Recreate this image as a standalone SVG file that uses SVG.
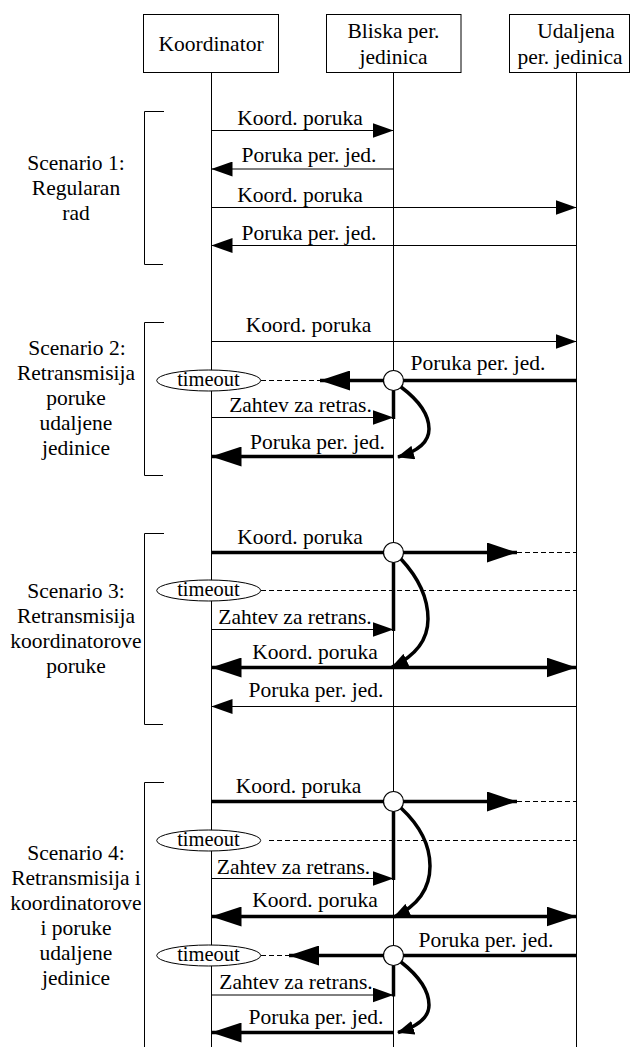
<svg xmlns="http://www.w3.org/2000/svg" width="634" height="1047" viewBox="0 0 634 1047">
  <style>
    .box { fill: #fff; stroke: #000; stroke-width: 1; }
    .life { stroke: #000; stroke-width: 1; fill: none; }
    .thin { stroke: #000; stroke-width: 1; fill: none; }
    .thick { stroke: #000; stroke-width: 3.5; fill: none; }
    .dash { stroke: #000; stroke-width: 1; stroke-dasharray: 5 3; fill: none; }
    .brk { stroke: #000; stroke-width: 1; fill: none; }
    .tmo { fill: #fff; stroke: #000; stroke-width: 1; }
    .junc { fill: #fff; stroke: #000; stroke-width: 1.2; }
  </style>
  <defs>
    <marker id="arr" markerUnits="userSpaceOnUse" markerWidth="21" markerHeight="15" refX="21" refY="7.5" orient="auto-start-reverse">
      <path d="M0,0 L21,7.5 L0,15 z" fill="#000"/>
    </marker>
    <marker id="arrThick" markerUnits="userSpaceOnUse" markerWidth="30" markerHeight="20" refX="30" refY="10" orient="auto-start-reverse">
      <path d="M0,0 L30,10 L0,20 z" fill="#000"/>
    </marker>
    <marker id="arrCurve" markerUnits="userSpaceOnUse" markerWidth="17" markerHeight="14" refX="16" refY="7" orient="auto">
      <path d="M0,0 L17,7 L0,14 z" fill="#000"/>
    </marker>
  </defs>
  <rect width="634" height="1047" fill="#fff"/>

  <!-- participants with lifelines -->
  <g id="koordinator">
    <rect class="box" x="143.5" y="14.5" width="135" height="58"/>
    <text x="211" y="51" text-anchor="middle" font-family="Liberation Serif" font-size="21.5">Koordinator</text>
    <line class="life" x1="211.5" y1="72.5" x2="211.5" y2="1047"/>
  </g>
  <g id="bliska">
    <rect class="box" x="326.5" y="14.5" width="134.5" height="58"/>
    <text x="393.5" y="38" text-anchor="middle" font-family="Liberation Serif" font-size="21.5">Bliska per.</text>
    <text x="393.5" y="63.5" text-anchor="middle" font-family="Liberation Serif" font-size="21.5">jedinica</text>
    <line class="life" x1="393.5" y1="72.5" x2="393.5" y2="1047"/>
  </g>
  <g id="udaljena">
    <rect class="box" x="509.5" y="14.5" width="120" height="58"/>
    <text x="576" y="38" text-anchor="middle" font-family="Liberation Serif" font-size="21.5">Udaljena</text>
    <text x="570" y="63.5" text-anchor="middle" font-family="Liberation Serif" font-size="21.5">per. jedinica</text>
    <line class="life" x1="576.5" y1="72.5" x2="576.5" y2="1047"/>
  </g>

  <!-- scenario brackets and captions -->
  <g id="scenario1">
    <path class="brk" d="M164,111.5 H144.5 V264.5 H163"/>
    <text x="76" y="169.5" text-anchor="middle" font-family="Liberation Serif" font-size="21.5">Scenario 1:</text>
    <text x="76" y="194.5" text-anchor="middle" font-family="Liberation Serif" font-size="21.5">Regularan</text>
    <text x="76" y="219.5" text-anchor="middle" font-family="Liberation Serif" font-size="21.5">rad</text>
  </g>
  <g id="scenario2">
    <path class="brk" d="M164,322.5 H144.5 V475.5 H163"/>
    <text x="77" y="355" text-anchor="middle" font-family="Liberation Serif" font-size="21.5">Scenario 2:</text>
    <text x="76" y="380" text-anchor="middle" font-family="Liberation Serif" font-size="21.5">Retransmisija</text>
    <text x="76" y="405" text-anchor="middle" font-family="Liberation Serif" font-size="21.5">poruke</text>
    <text x="76" y="430" text-anchor="middle" font-family="Liberation Serif" font-size="21.5">udaljene</text>
    <text x="76" y="455" text-anchor="middle" font-family="Liberation Serif" font-size="21.5">jedinice</text>
  </g>
  <g id="scenario3">
    <path class="brk" d="M164,533.5 H144.5 V724.5 H163"/>
    <text x="76" y="597.5" text-anchor="middle" font-family="Liberation Serif" font-size="21.5">Scenario 3:</text>
    <text x="76" y="622.5" text-anchor="middle" font-family="Liberation Serif" font-size="21.5">Retransmisija</text>
    <text x="76" y="647.5" text-anchor="middle" font-family="Liberation Serif" font-size="21.5">koordinatorove</text>
    <text x="76" y="672.5" text-anchor="middle" font-family="Liberation Serif" font-size="21.5">poruke</text>
  </g>
  <g id="scenario4">
    <path class="brk" d="M164,782.5 H144.5 V1047"/>
    <text x="76" y="860" text-anchor="middle" font-family="Liberation Serif" font-size="21.5">Scenario 4:</text>
    <text x="76" y="885" text-anchor="middle" font-family="Liberation Serif" font-size="21.5">Retransmisija i</text>
    <text x="76" y="910" text-anchor="middle" font-family="Liberation Serif" font-size="21.5">koordinatorove</text>
    <text x="76" y="935" text-anchor="middle" font-family="Liberation Serif" font-size="21.5">i poruke</text>
    <text x="76" y="960" text-anchor="middle" font-family="Liberation Serif" font-size="21.5">udaljene</text>
    <text x="76" y="985" text-anchor="middle" font-family="Liberation Serif" font-size="21.5">jedinice</text>
  </g>

  <!-- messages -->
  <g id="connectors">
    <!-- scenario 1 -->
    <line class="thin" x1="211.5" y1="130.5" x2="393.5" y2="130.5" marker-end="url(#arr)"/>
    <text x="300" y="125" text-anchor="middle" font-family="Liberation Serif" font-size="21.5">Koord. poruka</text>
    <line class="thin" x1="393.5" y1="169" x2="211.5" y2="169" marker-end="url(#arr)"/>
    <text x="309" y="161.5" text-anchor="middle" font-family="Liberation Serif" font-size="21.5">Poruka per. jed.</text>
    <line class="thin" x1="211.5" y1="207.5" x2="576.5" y2="207.5" marker-end="url(#arr)"/>
    <text x="300" y="201.5" text-anchor="middle" font-family="Liberation Serif" font-size="21.5">Koord. poruka</text>
    <line class="thin" x1="576.5" y1="245.5" x2="211.5" y2="245.5" marker-end="url(#arr)"/>
    <text x="309" y="240" text-anchor="middle" font-family="Liberation Serif" font-size="21.5">Poruka per. jed.</text>

    <!-- scenario 2 -->
    <line class="thin" x1="211.5" y1="341.5" x2="576.5" y2="341.5" marker-end="url(#arr)"/>
    <text x="308.5" y="331.5" text-anchor="middle" font-family="Liberation Serif" font-size="21.5">Koord. poruka</text>
    <line class="dash" x1="261" y1="380.5" x2="321" y2="380.5"/>
    <line class="thick" x1="577" y1="380.5" x2="320" y2="380.5" marker-end="url(#arrThick)"/>
    <text x="478" y="370" text-anchor="middle" font-family="Liberation Serif" font-size="21.5">Poruka per. jed.</text>
    <line class="thick" x1="393.5" y1="388" x2="393.5" y2="419"/>
    <line class="thin" x1="211.5" y1="417.5" x2="393.5" y2="417.5" marker-end="url(#arr)"/>
    <text x="300.5" y="412" text-anchor="middle" font-family="Liberation Serif" font-size="21.5">Zahtev za retras.</text>
    <path class="thick" d="M401,387 Q429,408 429,429 Q429,448 398,457" marker-end="url(#arrCurve)"/>
    <line class="thick" x1="393.5" y1="456.5" x2="211.5" y2="456.5" marker-end="url(#arrThick)"/>
    <text x="317.5" y="449" text-anchor="middle" font-family="Liberation Serif" font-size="21.5">Poruka per. jed.</text>
    <ellipse class="tmo" cx="208.7" cy="380.5" rx="52" ry="10.5"/>
    <text x="208.5" y="386" text-anchor="middle" font-family="Liberation Serif" font-size="20.5">timeout</text>
    <circle class="junc" cx="393.5" cy="380.5" r="10"/>

    <!-- scenario 3 -->
    <line class="thick" x1="211.5" y1="552.5" x2="517" y2="552.5" marker-end="url(#arrThick)"/>
    <line class="dash" x1="517" y1="552.5" x2="576.5" y2="552.5"/>
    <text x="300" y="543.5" text-anchor="middle" font-family="Liberation Serif" font-size="21.5">Koord. poruka</text>
    <line class="dash" x1="261" y1="590.5" x2="576.5" y2="590.5"/>
    <line class="thick" x1="393.5" y1="560" x2="393.5" y2="631"/>
    <line class="thin" x1="211.5" y1="629.5" x2="393.5" y2="629.5" marker-end="url(#arr)"/>
    <text x="295" y="623.5" text-anchor="middle" font-family="Liberation Serif" font-size="21.5">Zahtev za retrans.</text>
    <path class="thick" d="M401,559 Q428,588 428,619 Q428,650 392,667" marker-end="url(#arrCurve)"/>
    <line class="thick" x1="211.5" y1="667.5" x2="576.5" y2="667.5" marker-start="url(#arrThick)" marker-end="url(#arrThick)"/>
    <text x="315" y="658.5" text-anchor="middle" font-family="Liberation Serif" font-size="21.5">Koord. poruka</text>
    <line class="thin" x1="576.5" y1="706.5" x2="211.5" y2="706.5" marker-end="url(#arr)"/>
    <text x="316" y="697" text-anchor="middle" font-family="Liberation Serif" font-size="21.5">Poruka per. jed.</text>
    <ellipse class="tmo" cx="208.7" cy="590.5" rx="52" ry="10.5"/>
    <text x="208.5" y="596" text-anchor="middle" font-family="Liberation Serif" font-size="20.5">timeout</text>
    <circle class="junc" cx="393.5" cy="552.5" r="10"/>

    <!-- scenario 4 -->
    <line class="thick" x1="211.5" y1="801.5" x2="517" y2="801.5" marker-end="url(#arrThick)"/>
    <line class="dash" x1="517" y1="801.5" x2="576.5" y2="801.5"/>
    <text x="298.5" y="792.5" text-anchor="middle" font-family="Liberation Serif" font-size="21.5">Koord. poruka</text>
    <line class="dash" x1="269" y1="840.5" x2="576.5" y2="840.5"/>
    <line class="thick" x1="393.5" y1="809" x2="393.5" y2="880"/>
    <line class="thin" x1="211.5" y1="878.5" x2="393.5" y2="878.5" marker-end="url(#arr)"/>
    <text x="293.5" y="873.5" text-anchor="middle" font-family="Liberation Serif" font-size="21.5">Zahtev za retrans.</text>
    <path class="thick" d="M401,808 Q430,835 430,866 Q430,900 394,917" marker-end="url(#arrCurve)"/>
    <line class="thick" x1="211.5" y1="916.5" x2="576.5" y2="916.5" marker-start="url(#arrThick)" marker-end="url(#arrThick)"/>
    <text x="315" y="907" text-anchor="middle" font-family="Liberation Serif" font-size="21.5">Koord. poruka</text>
    <line class="dash" x1="261" y1="955.5" x2="290" y2="955.5"/>
    <line class="thick" x1="577" y1="955.5" x2="289" y2="955.5" marker-end="url(#arrThick)"/>
    <text x="486" y="946.5" text-anchor="middle" font-family="Liberation Serif" font-size="21.5">Poruka per. jed.</text>
    <line class="thick" x1="393.5" y1="963" x2="393.5" y2="996.5"/>
    <line class="thin" x1="211.5" y1="995" x2="393.5" y2="995" marker-end="url(#arr)"/>
    <text x="296" y="988.5" text-anchor="middle" font-family="Liberation Serif" font-size="21.5">Zahtev za retrans.</text>
    <path class="thick" d="M401,962 Q429,984 429,1005 Q429,1023 398,1032.5" marker-end="url(#arrCurve)"/>
    <line class="thick" x1="393.5" y1="1032.5" x2="211.5" y2="1032.5" marker-end="url(#arrThick)"/>
    <text x="316" y="1023.5" text-anchor="middle" font-family="Liberation Serif" font-size="21.5">Poruka per. jed.</text>
    <ellipse class="tmo" cx="208.7" cy="840.5" rx="52" ry="10.5"/>
    <text x="208.5" y="846" text-anchor="middle" font-family="Liberation Serif" font-size="20.5">timeout</text>
    <ellipse class="tmo" cx="208.7" cy="955.5" rx="52" ry="10.5"/>
    <text x="208.5" y="961" text-anchor="middle" font-family="Liberation Serif" font-size="20.5">timeout</text>
    <circle class="junc" cx="393.5" cy="801.5" r="10"/>
    <circle class="junc" cx="393.5" cy="955.5" r="10"/>
  </g>
</svg>
